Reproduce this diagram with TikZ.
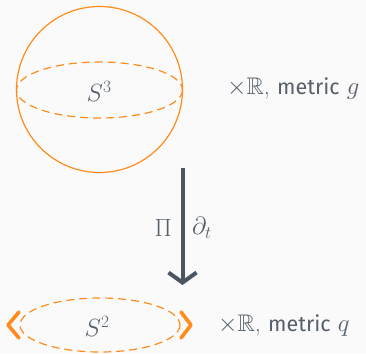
\documentclass[tikz,border=0pt]{standalone}
\usepackage{amssymb}
\usepackage{fontspec}
\newfontfamily\fira{Fira Sans}
\usetikzlibrary{arrows.meta}
\definecolor{morange}{HTML}{FF8C1A}
\definecolor{mtext}{HTML}{55606B}
\definecolor{marrow}{HTML}{4A5661}
\definecolor{mbg}{HTML}{FAFAFA}
\tikzset{
  orangeline/.style={draw=morange, line width=1.2pt},
  dashline/.style={draw=morange, line width=1.2pt, dash pattern=on 8pt off 5pt},
  lbl/.style={text=mtext, font=\fontsize{24}{28}\selectfont, inner sep=0pt},
  bracket/.style={draw=morange, line width=3.6pt, line cap=round, line join=round},
}
\begin{document}
\begin{tikzpicture}[x=1pt,y=-1pt]
\fill[mbg] (0,0) rectangle (366,353);
\useasboundingbox (0,0) rectangle (366,353);
% top sphere
\draw[orangeline] (99.5,89.5) circle [radius=83];
\draw[dashline] (99.5,90) ellipse [x radius=83, y radius=28];
\node[lbl] (s3) at (99,91) {$S^3$};
\node[lbl, anchor=west] (topl) at (227,89) {$\times\mathbb{R}$, {\fira\fontsize{21.5}{24}\selectfont metric} $g$};
% arrow
\coordinate (a1) at (182.5,168);
\coordinate (a2) at (182.5,285);
\draw[marrow, line width=4pt, -{Straight Barb[length=10pt,width=28pt]}] (a1) -- (a2);
\node[lbl, anchor=east] (pi) at (172,228) {$\Pi$};
\node[lbl, anchor=west] (dt) at (192,228) {$\partial_t$};
% bottom circle
\draw[dashline] (100,325) ellipse [x radius=80, y radius=27];
\draw[bracket] (19,312) .. controls (14,319) .. (8,325) .. controls (14,331) .. (19,338);
\draw[bracket] (181,312) .. controls (186,319) .. (191,325) .. controls (186,331) .. (181,338);
\node[lbl] (s2) at (97,326) {$S^2$};
\node[lbl, anchor=west] (botl) at (218,326) {$\times\mathbb{R}$, {\fira\fontsize{21.5}{24}\selectfont metric} $q$};
\end{tikzpicture}
\end{document}
